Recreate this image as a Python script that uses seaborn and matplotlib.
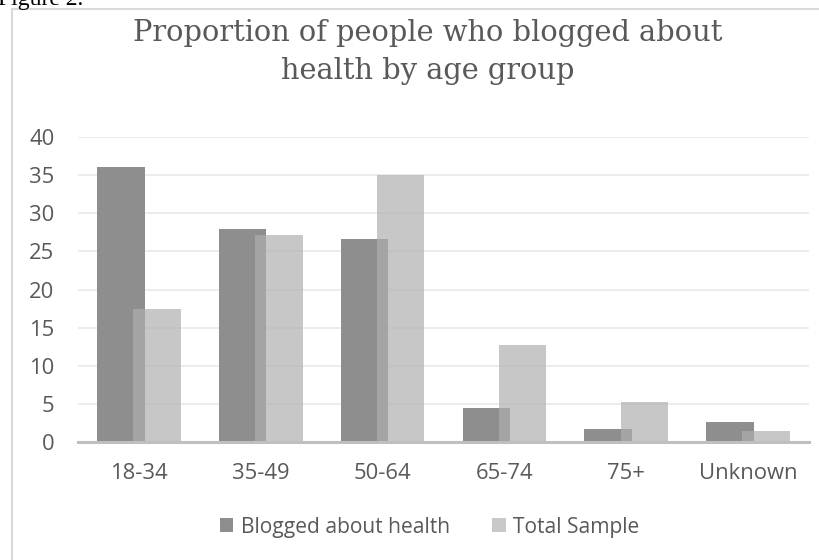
import matplotlib
matplotlib.use("Agg")
import matplotlib.pyplot as plt
import seaborn as sns
import pandas as pd
from matplotlib.patches import Rectangle

categories = ["18-34", "35-49", "50-64", "65-74", "75+", "Unknown"]
blogged = [36.1, 27.9, 26.6, 4.4, 1.7, 2.6]
total = [17.5, 27.2, 35.0, 12.7, 5.3, 1.5]
series_names = ["Blogged about health", "Total Sample"]
yticks = [0, 5, 10, 15, 20, 25, 30, 35, 40]

df = pd.DataFrame({
    "age": categories * 2,
    "value": blogged + total,
    "series": [series_names[0]] * len(categories) + [series_names[1]] * len(categories),
})

sns.set_theme(style="white")
plt.rcParams["font.family"] = ["Open Sans", "DejaVu Sans"]

W, H = 820, 560
fig = plt.figure(figsize=(W / 100, H / 100), dpi=100)
ax = fig.add_axes([78 / W, 1 - 442 / H, (809 - 78) / W, (442 - 137) / H])

dark = "#8e8e8e"
light = "#afafaf"
sns.barplot(data=df, x="age", y="value", hue="series", order=categories,
            hue_order=series_names, palette=[dark, light], width=0.593,
            gap=-0.317, dodge=True, saturation=1, ax=ax, errorbar=None,
            linewidth=0, edgecolor="none")

for p in ax.containers[1]:
    p.set_alpha(0.69)

ax.set_ylim(0, 40)
ax.set_yticks(yticks)
ax.set_xlabel("")
ax.set_ylabel("")
ax.grid(axis="y", color="#ececec", linewidth=1.4)
ax.set_axisbelow(True)
for s in ["top", "right", "left"]:
    ax.spines[s].set_visible(False)
ax.spines["bottom"].set_color("#bfbfbf")
ax.spines["bottom"].set_linewidth(2.2)
ax.tick_params(axis="both", length=0, labelsize=15.8, colors="#595959")
ax.tick_params(axis="y", pad=17)
ax.tick_params(axis="x", pad=15)

sns.move_legend(ax, "center", bbox_to_anchor=(429.5 / W, 1 - 527 / H),
                bbox_transform=fig.transFigure, ncol=2, frameon=False,
                title=None, fontsize=15.1, handlelength=0.65, handleheight=0.65,
                handletextpad=0.35, columnspacing=2.0, labelcolor="#595959")
leg = ax.get_legend()
for h in leg.legend_handles:
    h.set_alpha(1)
    h.set_linewidth(0)
leg.legend_handles[1].set_facecolor("#c8c8c8")

fig.text(428 / W, 1 - 33 / H, "Proportion of people who blogged about",
         ha="center", va="center", fontsize=20.8, color="#595959",
         family="DejaVu Serif")
fig.text(428 / W, 1 - 71 / H, "health by age group",
         ha="center", va="center", fontsize=20.8, color="#595959",
         family="DejaVu Serif")

fig.text(-2 / W, 1 - 5 / H, "Figure 2.", ha="left", va="baseline",
         fontsize=17, color="black", family="Liberation Serif")

fig.patches.append(Rectangle((12.5 / W, -0.1), 1.2, 1 - 8.5 / H + 0.1,
                             transform=fig.transFigure, fill=False,
                             edgecolor="#d9d9d9", linewidth=1.5))

fig.savefig("out.png", dpi=100)
